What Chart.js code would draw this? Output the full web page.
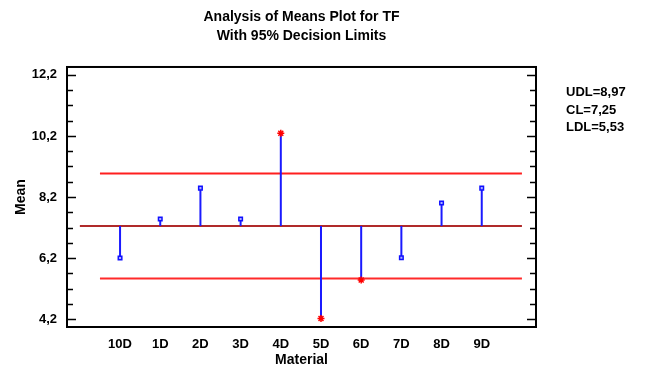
<!DOCTYPE html>
<html>
<head>
<meta charset="utf-8">
<script src="https://cdn.jsdelivr.net/npm/chart.js@4.4.0/dist/chart.umd.min.js"></script>
<style>
  html, body { margin: 0; padding: 0; background: #fff; }
  #wrap { width: 646px; height: 367px; }
</style>
</head>
<body>
<div id="wrap"><canvas id="anom" width="646" height="367"></canvas></div>
<script>
// data
const categories = ["10D", "1D", "2D", "3D", "4D", "5D", "6D", "7D", "8D", "9D"];
const means = [6.2, 7.48, 8.49, 7.48, 10.29, 4.22, 5.48, 6.21, 8.0, 8.49];
const udl = 8.97;
const cl = 7.25;
const ldl = 5.53;
const yTicks = [4.2, 6.2, 8.2, 10.2, 12.2];

const FONT = "'Liberation Sans', Arial, sans-serif";
Chart.defaults.color = "#000";
Chart.defaults.font.family = FONT;

function fmt(v, d) {
  return v.toFixed(d).replace(".", ",");
}

const outside = means.map((m) => m > udl || m < ldl);

// one stem per group, from the centre line to the group mean
const stems = means.map((m, i) => ({
  type: "line",
  data: [{ x: i, y: cl }, { x: i, y: m }],
  borderColor: "#1a1aff",
  borderWidth: 2,
  pointRadius: 0,
  order: 3
}));

const limitLines = [
  { data: [{ x: -0.5, y: udl }, { x: 10, y: udl }], borderColor: "#ff1f1f" },
  { data: [{ x: -1, y: cl }, { x: 10, y: cl }], borderColor: "#b02a2a" },
  { data: [{ x: -0.5, y: ldl }, { x: 10, y: ldl }], borderColor: "#ff2a2a" }
].map((d) => ({
  type: "line",
  data: d.data,
  borderColor: d.borderColor,
  borderWidth: 2,
  pointRadius: 0,
  order: 4
}));

const meanPoints = {
  type: "scatter",
  data: means.map((m, i) => ({ x: i, y: m })),
  pointStyle: outside.map((o) => (o ? "star" : "rect")),
  pointRadius: outside.map((o) => (o ? 3.5 : 2.5)),
  borderColor: outside.map((o) => (o ? "#ff0000" : "#1010ff")),
  backgroundColor: outside.map((o) => (o ? "#ff0000" : "#aab0ff")),
  borderWidth: 1.5,
  order: 1
};

// frame and inward ticks on both sides
const framePlugin = {
  id: "frame",
  afterDatasetsDraw(chart) {
    const { ctx, chartArea: a, scales } = chart;
    const y = scales.y;
    ctx.save();
    ctx.strokeStyle = "#000";
    ctx.lineWidth = 1.5;
    for (let k = -2; k <= 18; k++) {
      const v = 4.2 + 0.5 * k;
      if (v < y.min || v > y.max) continue;
      const py = Math.round(y.getPixelForValue(v)) + 0.5;
      const len = k % 4 === 0 ? 9 : 6;
      ctx.beginPath();
      ctx.moveTo(a.left, py);
      ctx.lineTo(a.left + len, py);
      ctx.moveTo(a.right, py);
      ctx.lineTo(a.right - len, py);
      ctx.stroke();
    }
    ctx.lineWidth = 2;
    ctx.strokeRect(a.left, a.top, a.right - a.left, a.bottom - a.top);
    ctx.restore();
  },
  afterDraw(chart) {
    const { ctx } = chart;
    ctx.save();
    ctx.fillStyle = "#000";
    ctx.font = "bold 13px " + FONT;
    ctx.textBaseline = "middle";
    ctx.textAlign = "left";
    ctx.fillText("UDL=" + fmt(udl, 2), 566, 92);
    ctx.fillText("CL=" + fmt(cl, 2), 566, 110);
    ctx.fillText("LDL=" + fmt(ldl, 2), 566, 127);
    ctx.restore();
  }
};

new Chart(document.getElementById("anom"), {
  data: {
    datasets: [meanPoints, ...stems, ...limitLines]
  },
  options: {
    responsive: false,
    animation: false,
    layout: { padding: { left: 0, right: 110, top: 0, bottom: 0 } },
    plugins: {
      legend: { display: false },
      tooltip: { enabled: false },
      title: {
        display: true,
        fullSize: false,
        text: ["Analysis of Means Plot for TF", "With 95% Decision Limits"],
        font: { size: 14, weight: "bold", lineHeight: 1.36 },
        color: "#000",
        padding: { top: 7.5, bottom: 21.4 }
      }
    },
    scales: {
      x: {
        type: "linear",
        min: -1.32,
        max: 10.35,
        afterBuildTicks: (scale) => {
          scale.ticks = categories.map((c, i) => ({ value: i }));
        },
        afterFit: (scale) => {
          scale.height = 40;
        },
        grid: { display: false, drawTicks: false },
        border: { display: false },
        ticks: {
          padding: 10,
          autoSkip: false,
          maxRotation: 0,
          font: { size: 13, weight: "bold" },
          callback: (v) => categories[v]
        },
        title: {
          display: true,
          text: "Material",
          font: { size: 14, weight: "bold", lineHeight: 1 },
          padding: { top: 0, bottom: 0 }
        }
      },
      y: {
        min: 3.94,
        max: 12.46,
        afterBuildTicks: (scale) => {
          scale.ticks = yTicks.map((v) => ({ value: v }));
        },
        afterFit: (scale) => {
          scale.width = 67;
        },
        grid: { display: false, drawTicks: false },
        border: { display: false },
        ticks: {
          padding: 10,
          font: { size: 13, weight: "bold" },
          callback: (v) => fmt(v, 1)
        },
        title: {
          display: true,
          text: "Mean",
          font: { size: 14, weight: "bold" },
          padding: { top: 13, bottom: 0 }
        }
      }
    }
  },
  plugins: [framePlugin]
});
</script>
</body>
</html>
